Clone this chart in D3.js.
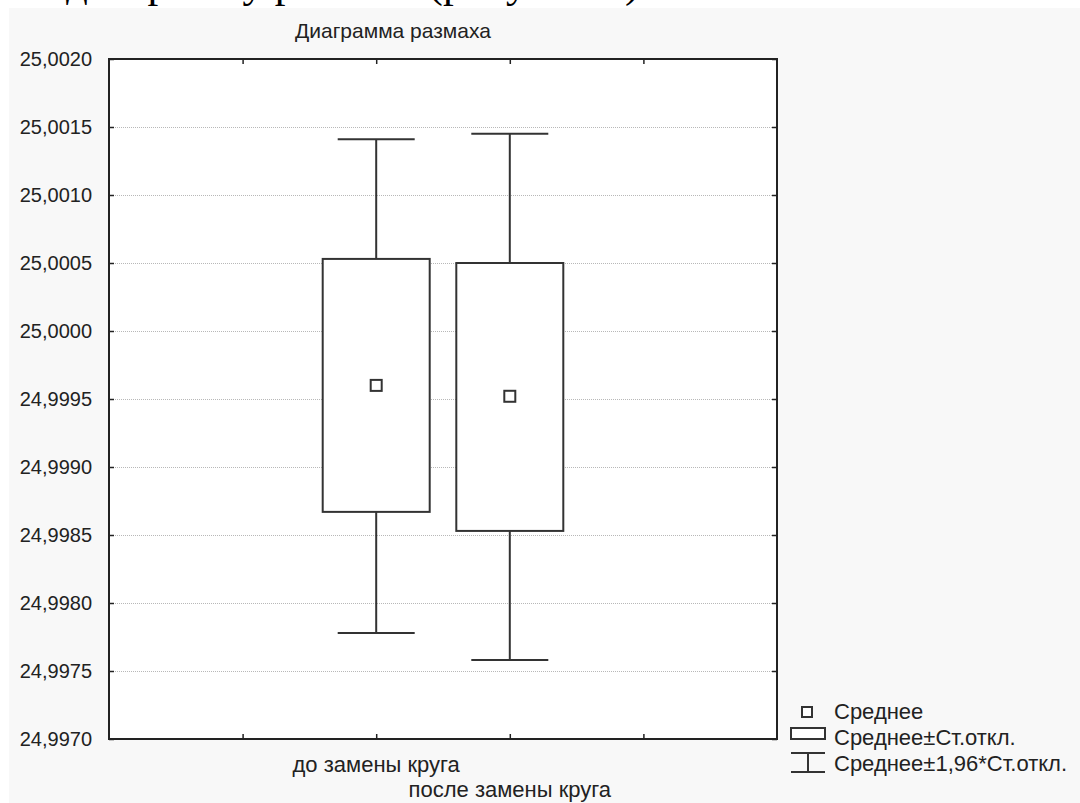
<!DOCTYPE html>
<html>
<head>
<meta charset="utf-8">
<script src="https://cdn.jsdelivr.net/npm/d3@7/dist/d3.min.js"></script>
<style>
  html, body { margin: 0; padding: 0; background: #ffffff; }
  svg { display: block; }
  text { font-family: "Liberation Sans", Arial, sans-serif; fill: #222; }
</style>
</head>
<body>
<svg id="chart" width="1080" height="803"></svg>
<script>
// ---- data ----
const categories   = ["до замены круга", "после замены круга"];
const categoryPos  = [2, 3];                       // slot on the 0..5 x axis
const means        = [24.99960, 24.99952];
const boxLow       = [24.99867, 24.99853];         // mean - SD
const boxHigh      = [25.00053, 25.00050];         // mean + SD
const whiskerLow   = [24.99778, 24.99758];         // mean - 1.96*SD
const whiskerHigh  = [25.00141, 25.00145];         // mean + 1.96*SD
const yTicks       = [24.9970, 24.9975, 24.9980, 24.9985, 24.9990, 24.9995,
                      25.0000, 25.0005, 25.0010, 25.0015, 25.0020];
const xTicks       = [1, 2, 3, 4];
const title        = "Диаграмма размаха";
const legendLabels = ["Среднее", "Среднее±Ст.откл.", "Среднее±1,96*Ст.откл."];
const headerText   = "диаграмму размаха (рисунок 1)";

// ---- layout ----
const svg = d3.select("#chart");
const L = 109, R = 777, T = 59, B = 739;

const y = d3.scaleLinear().domain([24.9970, 25.0020]).range([B, T]);
const x = d3.scaleLinear().domain([0, 5]).range([L, R]);
const fmt = v => d3.format(".4f")(v).replace(".", ",");

// page header text (cut off at the top, as in the source page)
svg.append("text")
  .attr("x", 66).attr("y", -3)
  .style("font-family", "'Liberation Serif', 'Times New Roman', serif")
  .style("font-size", "43px").style("fill", "#000")
  .text(headerText);

// grey panel
svg.append("rect").attr("x", 9).attr("y", 8).attr("width", 1071).attr("height", 795)
  .attr("fill", "#f8f8f8");

// plot area
svg.append("rect").attr("x", L).attr("y", T).attr("width", R - L).attr("height", B - T)
  .attr("fill", "#ffffff");

// grid lines
svg.append("g").selectAll("line")
  .data(yTicks.filter(v => v > 24.99701 && v < 25.00199))
  .join("line")
  .attr("x1", L).attr("x2", R)
  .attr("y1", d => Math.round(y(d)) + 0.5).attr("y2", d => Math.round(y(d)) + 0.5)
  .attr("stroke", "#b8b8b8").attr("stroke-width", 1).attr("stroke-dasharray", "1,1");

// y axis (ticks inside) left and right, x axis ticks bottom and top
const yAxisL = d3.axisRight(y).tickValues(yTicks).tickSize(5).tickFormat("");
const yAxisR = d3.axisLeft(y).tickValues(yTicks).tickSize(5).tickFormat("");
const gL = svg.append("g").attr("transform", `translate(${L},0)`).call(yAxisL);
const gR = svg.append("g").attr("transform", `translate(${R},0)`).call(yAxisR);
const xAxisB = d3.axisTop(x).tickValues(xTicks).tickSize(5).tickFormat("");
const xAxisT = d3.axisBottom(x).tickValues(xTicks).tickSize(5).tickFormat("");
const gB = svg.append("g").attr("transform", `translate(0,${B})`).call(xAxisB);
const gT = svg.append("g").attr("transform", `translate(0,${T})`).call(xAxisT);
[gL, gR, gB, gT].forEach(g => {
  g.select(".domain").remove();
  g.selectAll(".tick line").attr("stroke", "#222").attr("stroke-width", 1.5);
});

// y tick labels
svg.append("g").selectAll("text").data(yTicks).join("text")
  .attr("x", 92).attr("y", d => y(d) + 7)
  .attr("text-anchor", "end")
  .style("font-size", "20px")
  .text(d => fmt(d));

// boxes and whiskers
const boxW = 107, capW = 77, sw = 2;
const g = svg.append("g");
categories.forEach((c, i) => {
  const cx = x(categoryPos[i]);
  g.append("line").attr("x1", cx).attr("x2", cx)
    .attr("y1", y(whiskerHigh[i])).attr("y2", y(whiskerLow[i]))
    .attr("stroke", "#333").attr("stroke-width", sw);
  [whiskerHigh[i], whiskerLow[i]].forEach(v => {
    g.append("line").attr("x1", cx - capW / 2).attr("x2", cx + capW / 2)
      .attr("y1", y(v)).attr("y2", y(v))
      .attr("stroke", "#333").attr("stroke-width", sw);
  });
  g.append("rect").attr("x", cx - boxW / 2).attr("width", boxW)
    .attr("y", y(boxHigh[i])).attr("height", y(boxLow[i]) - y(boxHigh[i]))
    .attr("fill", "#fff").attr("stroke", "#333").attr("stroke-width", sw);
  g.append("rect").attr("x", cx - 5.5).attr("y", y(means[i]) - 5.5)
    .attr("width", 11).attr("height", 11)
    .attr("fill", "#fff").attr("stroke", "#333").attr("stroke-width", sw);
});

// frame
svg.append("rect").attr("x", L).attr("y", T).attr("width", R - L).attr("height", B - T)
  .attr("fill", "none").attr("stroke", "#222").attr("stroke-width", 2);

// category labels (staggered)
svg.append("g").selectAll("text").data(categories).join("text")
  .attr("x", (d, i) => x(categoryPos[i]))
  .attr("y", (d, i) => i % 2 === 0 ? 772 : 797)
  .attr("text-anchor", "middle")
  .style("font-size", "22px")
  .text(d => d);

// title
svg.append("text").attr("x", 393).attr("y", 38).attr("text-anchor", "middle")
  .style("font-size", "21px").text(title);

// legend
const lg = svg.append("g");
const lx = 834;
lg.append("rect").attr("x", 802).attr("y", 707).attr("width", 10).attr("height", 10)
  .attr("fill", "#fff").attr("stroke", "#333").attr("stroke-width", sw);
lg.append("rect").attr("x", 791).attr("y", 728).attr("width", 34).attr("height", 11)
  .attr("fill", "#fff").attr("stroke", "#333").attr("stroke-width", sw);
lg.append("line").attr("x1", 791).attr("x2", 825).attr("y1", 753).attr("y2", 753)
  .attr("stroke", "#333").attr("stroke-width", sw);
lg.append("line").attr("x1", 791).attr("x2", 825).attr("y1", 772).attr("y2", 772)
  .attr("stroke", "#333").attr("stroke-width", sw);
lg.append("line").attr("x1", 808).attr("x2", 808).attr("y1", 753).attr("y2", 772)
  .attr("stroke", "#333").attr("stroke-width", sw);
lg.selectAll("text.leg").data(legendLabels).join("text").attr("class", "leg")
  .attr("x", lx).attr("y", (d, i) => 719 + i * 26)
  .style("font-size", "22px")
  .text(d => d);
</script>
</body>
</html>
